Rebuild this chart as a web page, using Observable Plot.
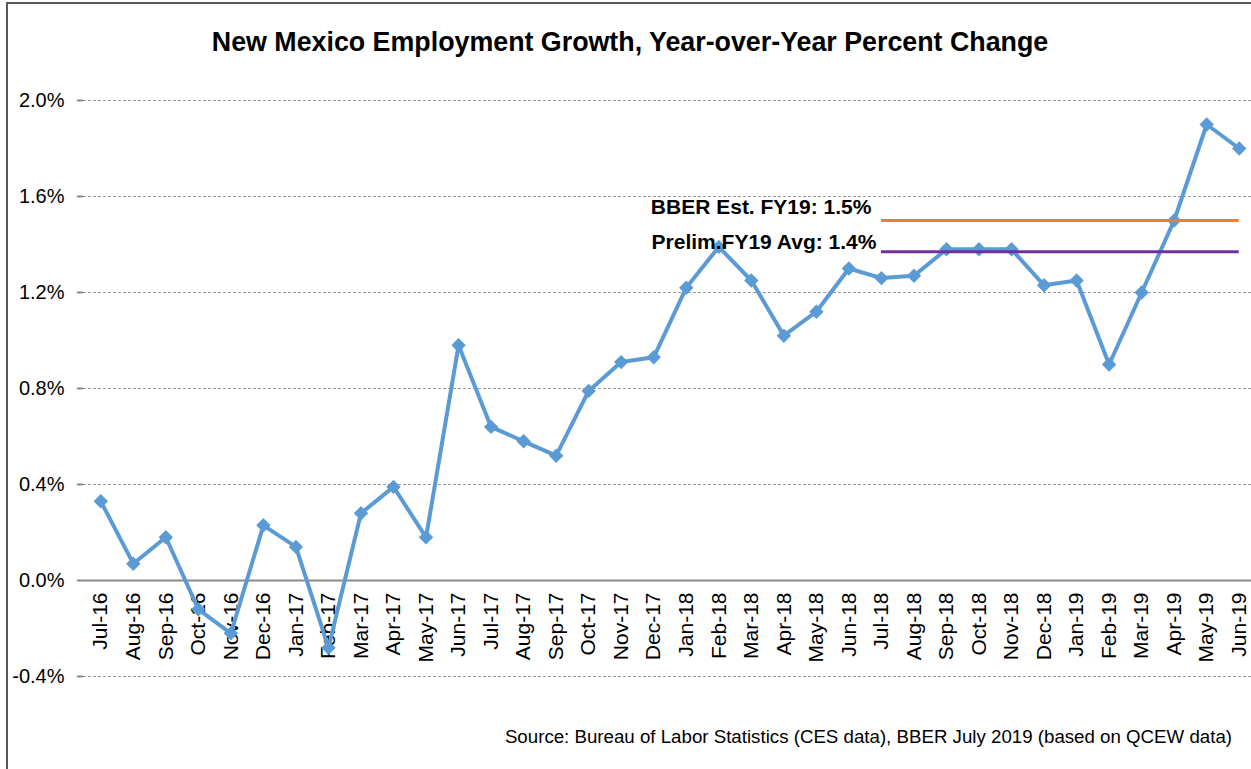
<!DOCTYPE html>
<html>
<head>
<meta charset="utf-8">
<script src="https://cdn.jsdelivr.net/npm/d3@7"></script>
<script src="https://cdn.jsdelivr.net/npm/@observablehq/plot@0.6"></script>
<style>
  html, body { margin: 0; padding: 0; background: #fff; overflow: hidden; }
  body { width: 1251px; height: 769px; position: relative; font-family: "Liberation Sans", Arial, sans-serif; }
  #frame { position: absolute; left: 6px; top: 2px; width: 1300px; height: 800px; border: 2px solid #595959; box-sizing: border-box; }
  #title { position: absolute; left: 0; top: 27px; width: 1260px; text-align: center; font-weight: bold; font-size: 26.8px; color: #000; }
  #chart { position: absolute; left: 0; top: 0; }
  #caption { position: absolute; right: 19px; top: 726px; font-size: 18.7px; color: #000; white-space: nowrap; }
</style>
</head>
<body>
<div id="frame"></div>
<div id="chart"></div>
<div id="title">New Mexico Employment Growth, Year-over-Year Percent Change</div>
<div id="caption">Source: Bureau of Labor Statistics (CES data), BBER July 2019 (based on QCEW data)</div>
<script>
const months = ["Jul-16","Aug-16","Sep-16","Oct-16","Nov-16","Dec-16","Jan-17","Feb-17","Mar-17","Apr-17","May-17","Jun-17",
  "Jul-17","Aug-17","Sep-17","Oct-17","Nov-17","Dec-17","Jan-18","Feb-18","Mar-18","Apr-18","May-18","Jun-18",
  "Jul-18","Aug-18","Sep-18","Oct-18","Nov-18","Dec-18","Jan-19","Feb-19","Mar-19","Apr-19","May-19","Jun-19"];
const growth = [0.33,0.07,0.18,-0.12,-0.22,0.23,0.14,-0.28,0.28,0.39,0.18,0.98,
  0.64,0.58,0.52,0.79,0.91,0.93,1.22,1.39,1.25,1.02,1.12,1.30,
  1.26,1.27,1.38,1.38,1.38,1.23,1.25,0.90,1.20,1.50,1.90,1.80];
const yTicks = [-0.4, 0.0, 0.4, 0.8, 1.2, 1.6, 2.0];
const refLabels = ["BBER Est. FY19: 1.5%", "Prelim.FY19 Avg: 1.4%"];
const refValues = [1.5, 1.37];
const refColors = ["#ED7D31", "#7030A0"];
const refStart = "Jul-18";
const refEnd = "Jun-19";

const data = months.map((m, i) => ({month: m, value: growth[i]}));
const refs = refLabels.map((l, i) => ({label: l, value: refValues[i], color: refColors[i], x1: refStart, x2: refEnd}));

const chart = Plot.plot({
  width: 1251,
  height: 769,
  marginTop: 100,
  marginBottom: 93,
  marginLeft: 83,
  marginRight: 0,
  style: {fontFamily: "'Liberation Sans', Arial, sans-serif", fontSize: "20px", color: "#000", background: "transparent"},
  x: {type: "point", domain: months, range: [84, 1255], padding: 0.5, round: false, axis: null},
  y: {domain: [-0.4, 2.0], axis: null},
  marks: [
    Plot.ruleY(yTicks, {stroke: "#9a9a9a", strokeWidth: 1, strokeDasharray: "3,2"}),
    Plot.ruleY([0], {stroke: "#898989", strokeWidth: 2}),
    Plot.axisY({ticks: yTicks, label: null, tickFormat: d => d.toFixed(1) + "%", tickSize: 6, tickPadding: 13, stroke: "#898989", strokeWidth: 2, fontSize: 20, fill: "#000"}),
    Plot.ruleX([0], {x: () => 83, y1: -0.4, y2: 2.0, stroke: "#898989", strokeWidth: 2}),
    Plot.text(months, {x: d => d, y: 0, text: d => d, rotate: -90, textAnchor: "end", dy: 12, fontSize: 21, fill: "#000"}),
    Plot.line(data, {x: "month", y: "value", stroke: "#5B9BD5", strokeWidth: 4, strokeLinejoin: "round"}),
    Plot.dot(data, {x: "month", y: "value", symbol: "diamond2", r: 6.5, fill: "#5B9BD5", stroke: "none"}),
    Plot.ruleY(refs, {y: "value", x1: "x1", x2: "x2", stroke: "color", strokeWidth: 3}),
    Plot.text([refs[0]], {x: "x1", y: "value", text: "label", textAnchor: "end", lineAnchor: "bottom", dx: -10, dy: -7, fontWeight: "bold", fontSize: 21, fill: "#000"}),
    Plot.text([refs[1]], {x: "x1", y: "value", text: "label", textAnchor: "end", lineAnchor: "bottom", dx: -5, dy: -3, fontWeight: "bold", fontSize: 21, fill: "#000"})
  ]
});
document.getElementById("chart").appendChild(chart);
</script>
</body>
</html>
